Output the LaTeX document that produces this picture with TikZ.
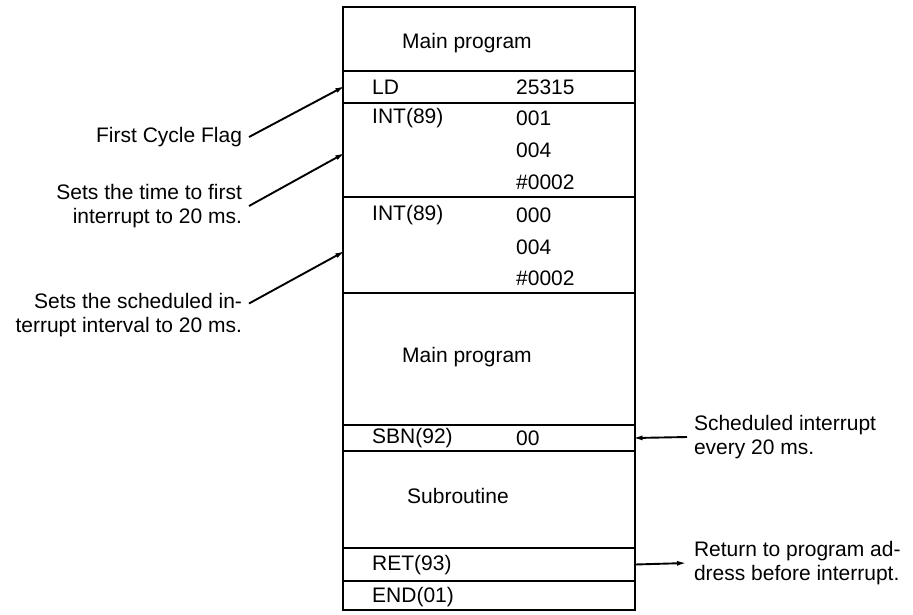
\documentclass[tikz,border=0pt]{standalone}
\usepackage{fontspec}
\setmainfont{Liberation Sans}
\usetikzlibrary{arrows.meta,positioning,calc}
\tikzset{sect/.style={draw=black,line width=2.4pt,minimum width=292pt,inner sep=0pt,outer sep=0pt},ins/.style={anchor=west,inner sep=0pt,font=\fontsize{21}{23.5}\selectfont},lab/.style={inner sep=2pt,outer sep=5pt,font=\fontsize{21}{23.5}\selectfont},arrow/.style={-{Latex[length=10pt,width=5pt]},line width=1.9pt,shorten >=-2.5pt}}
\begin{document}
\begin{tikzpicture}[x=1pt,y=-1pt]
\useasboundingbox (0,0) rectangle (913,614);
\node[sect,minimum height=64pt] (main1) at (489,39) {};
\node[sect,minimum height=32pt] (ld) at (489,87) {};
\node[sect,minimum height=94pt] (int1) at (489,150) {};
\node[sect,minimum height=96pt] (int2) at (489,245) {};
\node[sect,minimum height=132pt] (main2) at (489,359) {};
\node[sect,minimum height=26pt] (sbn) at (489,438) {};
\node[sect,minimum height=97pt] (sub) at (489,499.5) {};
\node[sect,minimum height=33pt] (ret) at (489,564.5) {};
\node[sect,minimum height=29pt] (end) at (489,595.5) {};
\node[ins] (t-main1) at (402,43) {Main program};
\node[ins] (t-ld) at (372,87) {LD};
\node[ins] (v-ld) at (516,87) {25315};
\node[ins] (t-int1) at (372,118) {INT(89)};
\node[ins] (v-int1a) at (516,118) {001};
\node[ins] (v-int1b) at (516,150) {004};
\node[ins] (v-int1c) at (516,182) {\#0002};
\node[ins] (t-int2) at (372,215) {INT(89)};
\node[ins] (v-int2a) at (516,215) {000};
\node[ins] (v-int2b) at (516,247) {004};
\node[ins] (v-int2c) at (516,278) {\#0002};
\node[ins] (t-main2) at (402,357) {Main program};
\node[ins] (t-sbn) at (372,438) {SBN(92)};
\node[ins] (v-sbn) at (516,438) {00};
\node[ins] (t-sub) at (407,496) {Subroutine};
\node[ins] (t-ret) at (372,565) {RET(93)};
\node[ins] (t-end) at (372,597) {END(01)};
\node[lab,anchor=east] (flag) at (249,137) {First Cycle Flag};
\node[lab,anchor=east,align=right] (first) at (249,206) {Sets the time to first\\interrupt to 20 ms.};
\node[lab,anchor=east,align=right] (sched) at (249,315) {Sets the scheduled in-\\terrupt interval to 20 ms.};
\node[lab,anchor=west,align=left] (every) at (687,437) {Scheduled interrupt\\every 20 ms.};
\node[lab,anchor=west,align=left] (back) at (687,563) {Return to program ad-\\dress before interrupt.};
\draw[arrow](flag.east)--(ld.west);
\draw[arrow](first.east)--([yshift=-4pt]int1.west);
\draw[arrow]([yshift=11.5pt]sched.east)--([yshift=-7pt]int2.west);
\draw[arrow](every.west)--(sbn.east);
\draw[arrow,shorten >=0pt](ret.east)--(back.west);
\end{tikzpicture}
\end{document}
